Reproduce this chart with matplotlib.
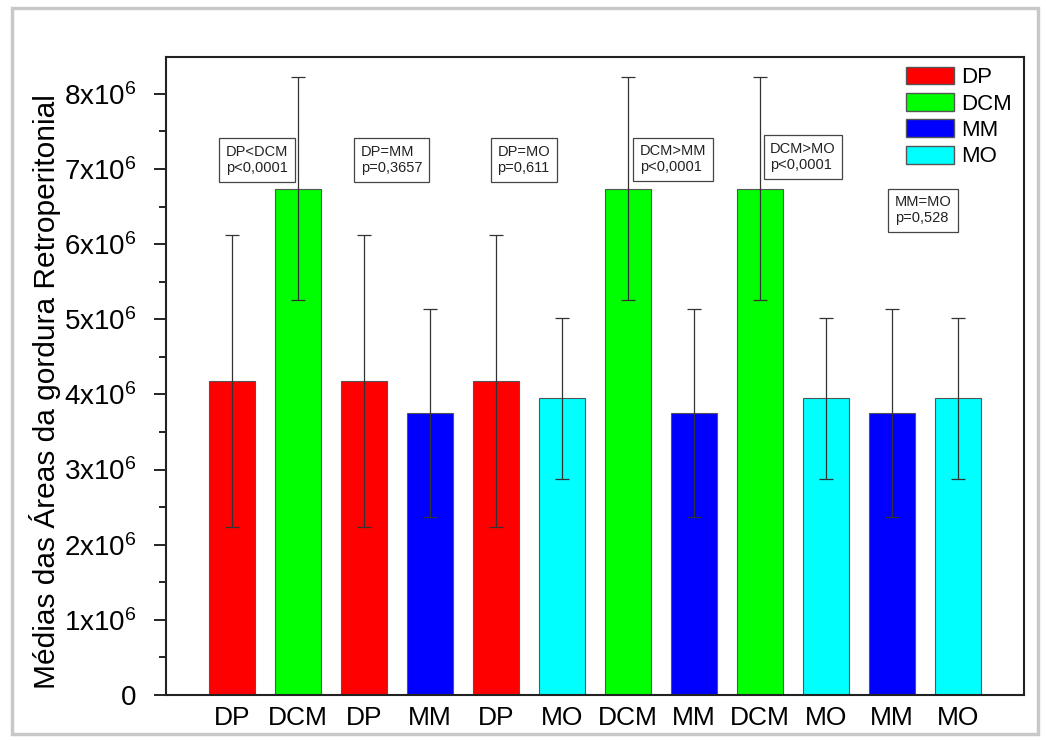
import matplotlib
matplotlib.use('Agg')
import matplotlib.pyplot as plt
from matplotlib.patches import Rectangle, Patch
from matplotlib.ticker import FixedLocator, MultipleLocator

plt.rcParams['font.family'] = ['Liberation Sans', 'DejaVu Sans']
plt.rcParams['mathtext.fontset'] = 'custom'
plt.rcParams['mathtext.rm'] = 'Liberation Sans'

# group means and standard deviations
groups = ['DP', 'DCM', 'MM', 'MO']
means = {'DP': 4.18e6, 'DCM': 6.74e6, 'MM': 3.75e6, 'MO': 3.95e6}
sds = {'DP': 1.94e6, 'DCM': 1.48e6, 'MM': 1.38e6, 'MO': 1.07e6}
colors = {'DP': '#ff0000', 'DCM': '#00ff00', 'MM': '#0000ff', 'MO': '#00ffff'}

# order of bars (pairwise comparisons)
bar_labels = ['DP', 'DCM', 'DP', 'MM', 'DP', 'MO', 'DCM', 'MM', 'DCM', 'MO', 'MM', 'MO']

# comparison annotations: text, x, y
notes = ['DP<DCM\np<0,0001', 'DP=MM\np=0,3657', 'DP=MO\np=0,611',
         'DCM>MM\np<0,0001', 'DCM>MO\np<0,0001', 'MM=MO\np=0,528']
note_x = [1.38, 3.42, 5.42, 7.68, 9.65, 11.47]
note_y = [7.12e6, 7.12e6, 7.12e6, 7.13e6, 7.16e6, 6.45e6]

fig = plt.figure(figsize=(10.46, 7.42), dpi=100)
ax = fig.add_axes([166 / 1046, 47 / 742, 858 / 1046, 638 / 742])

# outer frame of the picture
fig.patches.append(Rectangle((12 / 1046, 8 / 742), 1026 / 1046, 726 / 742,
                             transform=fig.transFigure, fill=False,
                             edgecolor='#c8c8c8', lw=2.5))

xs = list(range(1, len(bar_labels) + 1))
ax.bar(xs, [means[g] for g in bar_labels], width=0.71,
       color=[colors[g] for g in bar_labels], edgecolor='#555555', linewidth=0.8,
       yerr=[sds[g] for g in bar_labels],
       error_kw=dict(ecolor='#333333', elinewidth=0.9, capsize=5, capthick=0.9))

for t, x, y in zip(notes, note_x, note_y):
    ax.text(x, y, t, ha='center', va='center', fontsize=10.5, color='#222222',
            multialignment='left',
            bbox=dict(boxstyle='square,pad=0.45', fc='white', ec='#444444', lw=0.9))

ax.set_xlim(0, 13)
ax.set_ylim(0, 8.49e6)
ax.set_xticks(xs)
ax.set_xticklabels(bar_labels, fontsize=19)
ax.tick_params(axis='x', length=0, pad=8)

ax.yaxis.set_major_locator(FixedLocator([i * 1e6 for i in range(9)]))
ax.yaxis.set_minor_locator(MultipleLocator(0.5e6))
ax.set_yticklabels(['0'] + [r'$\mathregular{%dx10^6}$' % i for i in range(1, 9)], fontsize=20)
ax.tick_params(axis='y', which='major', length=9, width=1.2, direction='out', pad=12)
ax.tick_params(axis='y', which='minor', length=5, width=1.2, direction='out')
for s in ax.spines.values():
    s.set_linewidth(1.5)
    s.set_color('#222222')

ax.set_ylabel('Médias das Áreas da gordura Retroperitonial', fontsize=21.5)
ax.yaxis.set_label_coords(-0.122, 0.476)

handles = [Patch(facecolor=colors[g], edgecolor='#555555', label=g) for g in groups]
ax.legend(handles=handles, loc='upper right', frameon=False, fontsize=16,
          handlelength=2.2, handleheight=0.85, labelspacing=0.22,
          handletextpad=0.3, borderaxespad=0, borderpad=0.2,
          bbox_to_anchor=(0.991, 0.992))

fig.savefig('out.png', dpi=100)
